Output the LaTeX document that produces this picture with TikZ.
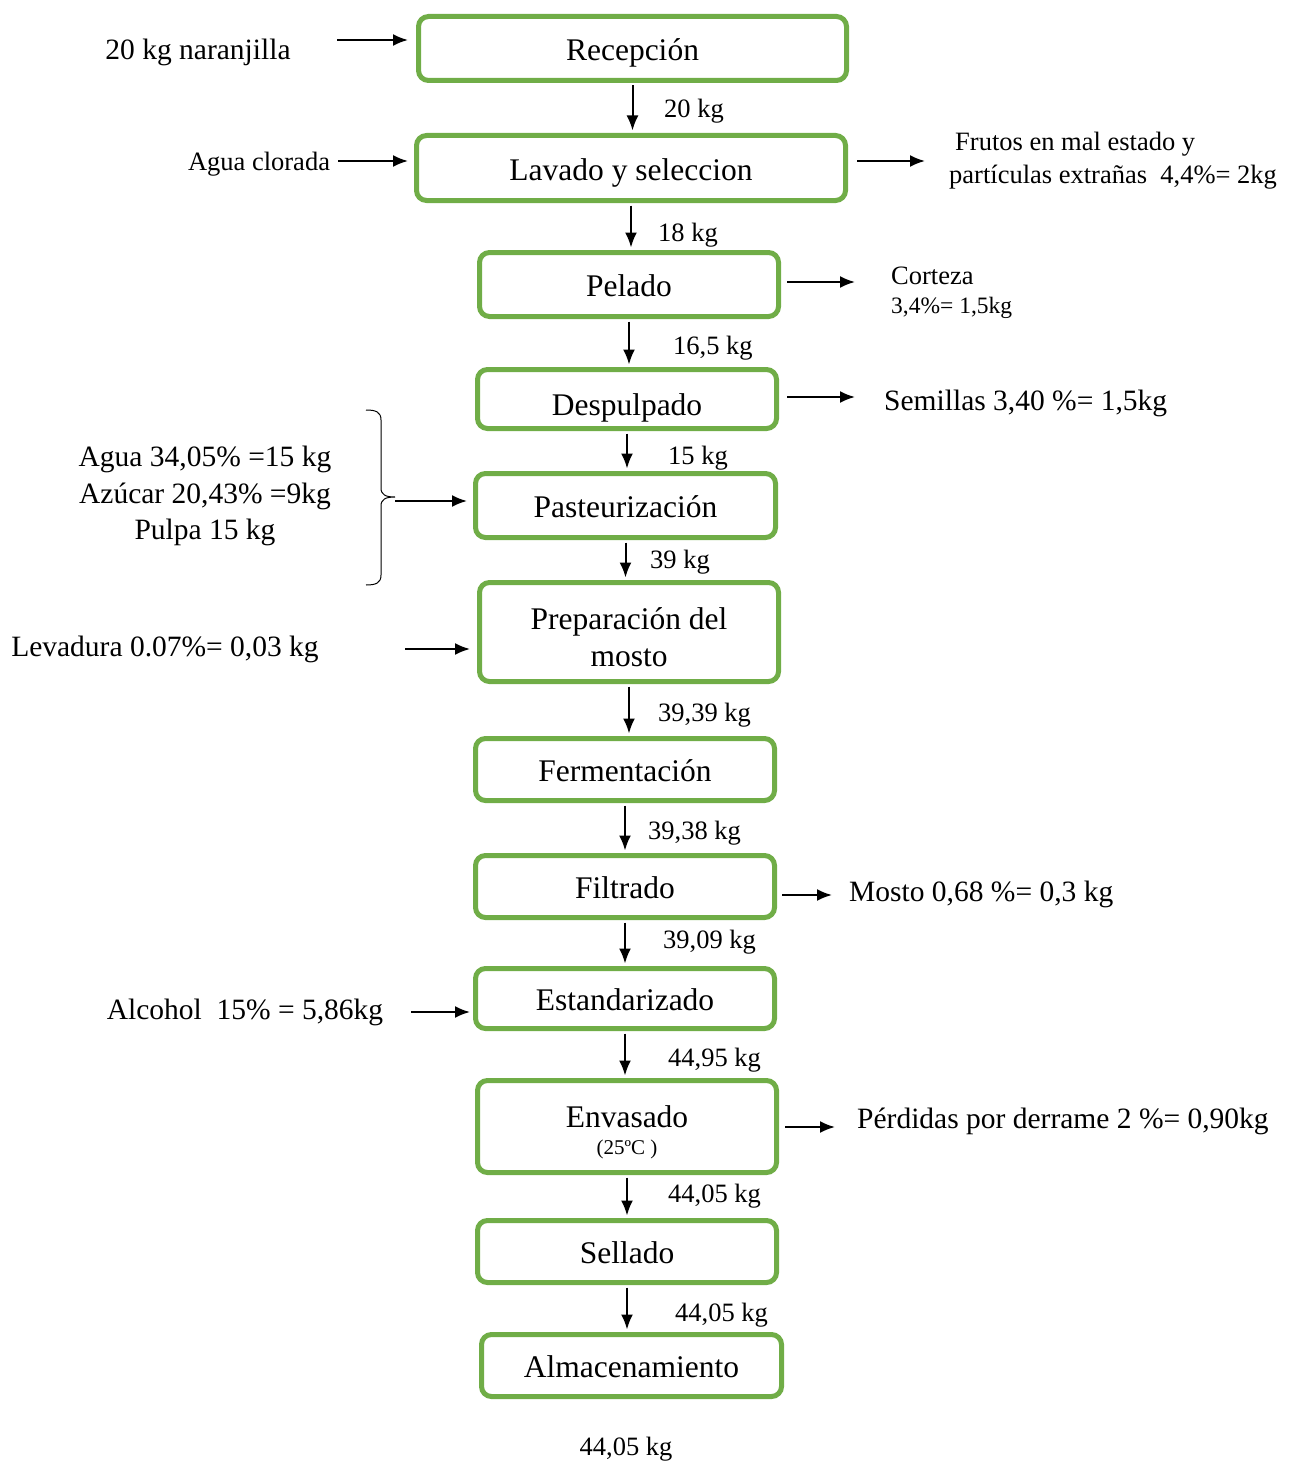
\documentclass[tikz,border=0pt]{standalone}
\usepackage{fontspec}
\setmainfont{Liberation Serif}
\usepackage{xcolor}
\usetikzlibrary{positioning,arrows.meta}
\definecolor{verde}{HTML}{70AD47}

\begin{document}
\begin{tikzpicture}[x=1pt,y=-1pt]
\tikzstyle{every node}+=[inner sep=0pt]
\tikzstyle{etapa}=[draw=verde, line width=5pt, rounded corners=10pt, minimum width=299pt, minimum height=62pt, align=center, font=\fontsize{31.5}{37}\selectfont]
\tikzstyle{una}=[etapa, text height=31pt, text depth=7pt]
\tikzstyle{flecha}=[line width=2pt, -{Latex[length=15pt,width=12pt]}]
\tikzstyle{baja}=[flecha, shorten <=2.5pt, shorten >=2.5pt]
\tikzstyle{dato}=[font=\fontsize{29.5}{36.5}\selectfont]
\tikzstyle{chico}=[font=\fontsize{26.5}{33}\selectfont]
\tikzstyle{peso}=[chico, anchor=west]
\useasboundingbox (0,0) rectangle (1295,1461);

\node[una, minimum width=428pt, minimum height=64pt] (recep) at (632.5,48.5) {Recepción};
\node[una, minimum width=429pt, minimum height=65pt] (lavado) at (631,168) {Lavado y seleccion};
\node[una, minimum height=64pt] (pelado) at (629,284.5) {Pelado};
\node[una, minimum height=59pt, text height=39pt] (despul) at (627,399) {Despulpado};
\node[una, minimum width=300pt, minimum height=64pt] (pasteur) at (625.5,505.5) {Pasteurización};
\node[etapa, minimum height=99pt] (prep) at (629,632) {\rule{0pt}{33pt}Preparación del\\mosto};
\node[una] (ferment) at (625,769.5) {Fermentación};
\node[una] (filtr) at (625,886.5) {Filtrado};
\node[una, minimum height=60pt] (estand) at (625,998.5) {Estandarizado};
\node[etapa, minimum height=92pt] (envas) at (627,1126.5) {\rule{0pt}{33pt}Envasado\\[-10pt]{\fontsize{21}{25}\selectfont (25ºC )}};
\node[una] (sell) at (627,1251.5) {Sellado};
\node[una, minimum width=300pt] (almac) at (631.5,1365.5) {Almacenamiento};

\draw[baja] (recep.south) -- (recep.south |- lavado.north);
\draw[baja] (lavado.south) -- (lavado.south |- pelado.north);
\draw[baja] (pelado.south) -- (pelado.south |- despul.north);
\draw[baja] (despul.south) -- (despul.south |- pasteur.north);
\draw[baja] (pasteur.south) -- (pasteur.south |- prep.north);
\draw[baja] (prep.south) -- (prep.south |- ferment.north);
\draw[baja] (ferment.south) -- (ferment.south |- filtr.north);
\draw[baja] (filtr.south) -- (filtr.south |- estand.north);
\draw[baja] (estand.south) -- (estand.south |- envas.north);
\draw[baja] (envas.south) -- (envas.south |- sell.north);
\draw[baja] (sell.south) -- (sell.south |- almac.north);

\node[peso] (m1) at (664,111) {20 kg};
\node[peso] (m2) at (658,235) {18 kg};
\node[peso] (m3) at (673,348) {16,5 kg};
\node[peso] (m4) at (668,458) {15 kg};
\node[peso] (m5) at (650,562) {39 kg};
\node[peso] (m6) at (658,715) {39,39 kg};
\node[peso] (m7) at (648,833) {39,38 kg};
\node[peso] (m8) at (663,942) {39,09 kg};
\node[peso] (m9) at (668,1060) {44,95 kg};
\node[peso] (m10) at (668,1196) {44,05 kg};
\node[peso] (m11) at (675,1315) {44,05 kg};
\node[chico] (mfin) at (626,1449) {44,05 kg};

\node[dato] (e1) at (198,52) {20 kg naranjilla};
\coordinate (c1) at (337,40);
\draw[flecha, shorten >=8pt] (c1) -- (c1 -| recep.west);
\node[chico] (e2) at (259,164) {Agua clorada};
\coordinate (c2) at (338,161);
\draw[flecha, shorten >=6pt] (c2) -- (c2 -| lavado.west);
\node[dato, align=center] (e3) at (205,496) {Agua 34,05\% =15 kg\\Azúcar 20,43\% =9kg\\Pulpa 15 kg};
\draw[line width=1pt] (366,410) .. controls (376,410) and (381,412) .. (381,420) -- (381,488)
  .. controls (381,495) and (386,497) .. (395,497) .. controls (386,497) and (381,499) .. (381,506)
  -- (381,575) .. controls (381,583) and (376,585) .. (366,585);
\coordinate (llave) at (395,501);
\draw[flecha, shorten >=6pt] (llave) -- (llave -| pasteur.west);
\node[dato] (e4) at (165,649) {Levadura 0.07\%= 0,03 kg};
\coordinate (c4) at (405,649);
\draw[flecha, shorten >=7pt] (c4) -- (c4 -| prep.west);
\node[dato] (e5) at (245,1012) {Alcohol\ \ 15\% = 5,86kg};
\coordinate (c5) at (411,1012);
\draw[flecha, shorten >=3pt] (c5) -- (c5 -| estand.west);

\coordinate (t1) at (925,161);
\draw[flecha, shorten <=9pt] (lavado.east |- t1) -- (t1);
\node[chico, anchor=west, align=left] (s1) at (949,160.5) {\hspace{6pt}Frutos en mal estado y\\partículas extrañas\ \ 4,4\%= 2kg};
\coordinate (t2) at (855,282);
\draw[flecha, shorten <=6pt] (pelado.east |- t2) -- (t2);
\node[chico, anchor=west] (s2) at (891,276) {Corteza};
\node[anchor=west, font=\fontsize{23.5}{28}\selectfont] (s2b) at (891,308) {3,4\%= 1,5kg};
\coordinate (t3) at (855,397);
\draw[flecha, shorten <=8pt] (despul.east |- t3) -- (t3);
\node[dato, anchor=west] (s3) at (884,403) {Semillas 3,40 \%= 1,5kg};
\coordinate (t4) at (832,895);
\draw[flecha, shorten <=5pt] (filtr.east |- t4) -- (t4);
\node[dato, anchor=west] (s4) at (849,894) {Mosto 0,68 \%= 0,3 kg};
\coordinate (t5) at (835,1127);
\draw[flecha, shorten <=6pt] (envas.east |- t5) -- (t5);
\node[dato, anchor=west] (s5) at (857,1121) {Pérdidas por derrame 2 \%= 0,90kg};
\end{tikzpicture}
\end{document}
